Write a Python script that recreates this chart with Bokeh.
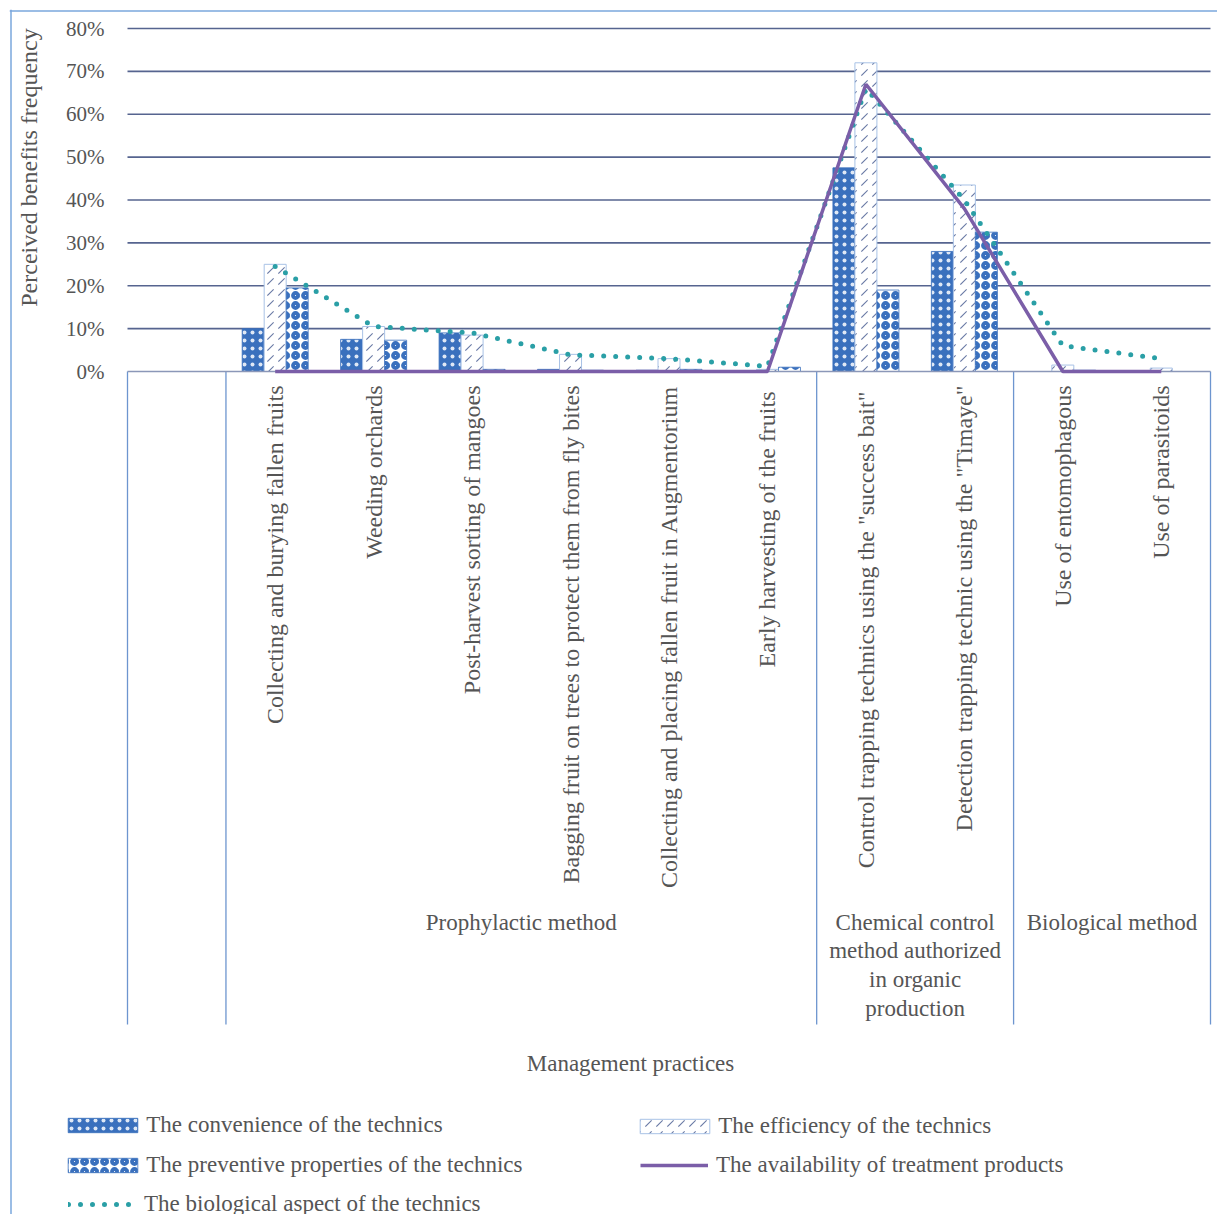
import math
import numpy as np
from bokeh.plotting import figure
from bokeh.models import Range1d, Legend, LegendItem, Span
from bokeh.core.properties import value
from bokeh.embed import file_html
from bokeh.resources import INLINE

# ---------------- data ----------------
categories = [
    "",
    "Collecting and burying fallen fruits",
    "Weeding orchards",
    "Post-harvest sorting of mangoes",
    "Bagging fruit on trees to protect them from fly bites",
    "Collecting and placing fallen fruit in Augmentorium",
    "Early  harvesting of the fruits",
    'Control trapping technics using  the "success bait"',
    'Detection trapping technic using the "Timaye"',
    "Use of entomophagous",
    "Use of parasitoids",
]
category_groups = [
    "",
    "Prophylactic method", "Prophylactic method", "Prophylactic method",
    "Prophylactic method", "Prophylactic method", "Prophylactic method",
    "Chemical control\nmethod authorized\nin organic\nproduction",
    "Chemical control\nmethod authorized\nin organic\nproduction",
    "Biological method", "Biological method",
]
convenience = [0, 10, 7.5, 9, 0.5, 0.3, 0, 47.5, 28, 0, 0]
efficiency = [0, 25, 10.5, 8.5, 4, 3, 0.5, 72, 43.5, 1.5, 0.8]
preventive = [0, 19.5, 7.3, 0.5, 0.3, 0.5, 1, 19, 32.5, 0.3, 0]
availability = [float("nan"), 0, 0, 0, 0, 0, 0, 67, 38, 0, 0]
biological = [float("nan"), 24.5, 10.5, 9, 3.9, 3, 1.2, 66, 40, 6, 3]
y_ticks = [0, 10, 20, 30, 40, 50, 60, 70, 80]
y_tick_labels = ["0%", "10%", "20%", "30%", "40%", "50%", "60%", "70%", "80%"]
series_names = [
    "The convenience of the technics",
    "The efficiency of the technics",
    "The preventive properties of the technics",
    "The availability of treatment products",
    "The biological aspect of the technics",
]
y_title = "Perceived benefits frequency"
x_title = "Management practices"

# ---------------- layout (page pixels) ----------------
W, H = 1217, 1214
PAGE0 = 0
FRAME_L, FRAME_T = 9, 9
PLOT_L, PLOT_R = 127, 1210
ZERO_Y, TOP_Y = 371, 28
TOP_VAL = 80
n = len(categories)
px_cat = (PLOT_R - PLOT_L) / n
px_pct = (ZERO_Y - TOP_Y) / TOP_VAL


def dx(page_x):
    return (page_x - PLOT_L) / px_cat


def dy(page_y):
    return (ZERO_Y - page_y) / px_pct


FONT = value("Liberation Serif")
TXT = "#555555"
BLUE = "#3a70bd"
GRID = "#56648f"
AXIS = "#8b97b8"
TABLE = "#6d95cf"
PURPLE = "#7b5ea8"
TEAL = "#2a9fa6"
BORDER = "#7aa7dd"

p = figure(width=W, height=H, output_backend="svg", toolbar_location=None,
           x_range=Range1d(dx(FRAME_L), dx(PAGE0 + W)),
           y_range=Range1d(dy(PAGE0 + H), dy(FRAME_T)),
           x_axis_location=None, y_axis_location=None,
           min_border_left=FRAME_L - PAGE0, min_border_top=FRAME_T - PAGE0,
           min_border_right=0, min_border_bottom=0)
p.grid.visible = False
p.outline_line_color = None
p.background_fill_color = "white"
p.border_fill_color = "white"

# chart border (left and top visible in the crop)
p.add_layout(Span(location=dx(10.5), dimension="height", line_color=BORDER, line_width=1.5))
p.add_layout(Span(location=dy(10.5), dimension="width", line_color=BORDER, line_width=1.5))

# gridlines
gt = [t for t in y_ticks if t > 0]
p.segment(x0=[0] * len(gt), x1=[n] * len(gt), y0=gt, y1=gt,
          line_color=GRID, line_width=1.6)

# table of category labels
bounds = [0] + [i for i in range(1, n) if category_groups[i] != category_groups[i - 1]] + [n]
table_bottom = dy(1024)
p.segment(x0=bounds, x1=bounds, y0=[0] * len(bounds), y1=[table_bottom] * len(bounds),
          line_color=TABLE, line_width=1.3)

# bars
xc = np.arange(n) + 0.5
bw = 22 / px_cat
r_conv = p.vbar(x=xc - bw, top=convenience, width=bw, fill_color=BLUE, line_color=BLUE,
                line_width=0.8, hatch_pattern="dot", hatch_color="#dfe8f5",
                hatch_scale=8, hatch_weight=1.0)
r_eff = p.vbar(x=xc, top=efficiency, width=bw, fill_color="white", line_color="#a8c2e6",
               line_width=1, hatch_pattern="right_diagonal_dash", hatch_color="#6b7ba6",
               hatch_scale=11, hatch_weight=1.1)
r_prev = p.vbar(x=xc + bw, top=preventive, width=bw, fill_color="white", line_color=BLUE,
                line_width=0.8, hatch_pattern="ring", hatch_color=BLUE,
                hatch_scale=10, hatch_weight=3.8)

# zero axis line
p.segment(x0=[0], x1=[n], y0=[0], y1=[0], line_color=AXIS, line_width=1.5)

# lines
r_bio = p.line(xc, biological, line_color=TEAL, line_width=5, line_dash="0 12",
               line_cap="round")
r_av = p.line(xc, availability, line_color=PURPLE, line_width=3.5)

# y tick labels
p.text(x=[dx(104)] * len(y_ticks), y=y_ticks, text=y_tick_labels, text_align="right",
       text_baseline="middle", text_font=FONT, text_font_size="21px", text_color=TXT)
# y title
p.text(x=[dx(28)], y=[dy(167)], text=[y_title], angle=math.pi / 2, text_align="center",
       text_baseline="middle", text_font=FONT, text_font_size="24px", text_color=TXT)

# category labels (rotated)
p.text(x=xc, y=[dy(385)] * n, text=categories, angle=math.pi / 2, text_align="right",
       text_baseline="middle", text_font=FONT, text_font_size="24px", text_color=TXT)

# group labels
gx, gtext = [], []
for a, b in zip(bounds[:-1], bounds[1:]):
    gx.append((a + b) / 2)
    gtext.append(category_groups[a])
p.text(x=gx, y=[dy(909)] * len(gx), text=gtext, text_align="center", text_baseline="top",
       text_font=FONT, text_font_size="23px", text_line_height=1.15, text_color=TXT)

# x title
p.text(x=[dx(630)], y=[dy(1063)], text=[x_title], text_align="center",
       text_baseline="middle", text_font=FONT, text_font_size="23px", text_color=TXT)

# legends
common = dict(orientation="vertical", glyph_height=18, label_height=25,
              spacing=14, padding=0, margin=0,
              border_line_color=None, background_fill_alpha=0,
              label_text_font="Liberation Serif", label_text_font_size="23px",
              label_text_color=TXT)
bar_style = dict(glyph_width=87, label_standoff=0)
line_style = dict(glyph_width=68, label_standoff=8)
ROW1_TOP = 1113.5
ROW_PITCH = 39
ROW_H = 25


def bottom_of(first_row, nrows):
    top = ROW1_TOP + first_row * ROW_PITCH
    return (PAGE0 + H) - (top + nrows * ROW_H + (nrows - 1) * (ROW_PITCH - ROW_H))


legends = [
    Legend(items=[LegendItem(label=series_names[0], renderers=[r_conv]),
                  LegendItem(label=series_names[2], renderers=[r_prev])],
           location=(59.3 - FRAME_L, bottom_of(0, 2)), **common, **bar_style),
    Legend(items=[LegendItem(label=series_names[4], renderers=[r_bio])],
           location=(68 - FRAME_L, bottom_of(2, 1)), **common, **line_style),
    Legend(items=[LegendItem(label=series_names[1], renderers=[r_eff])],
           location=(631.3 - FRAME_L, bottom_of(0, 1)), **common, **bar_style),
    Legend(items=[LegendItem(label=series_names[3], renderers=[r_av])],
           location=(640 - FRAME_L, bottom_of(1, 1)), **common, **line_style),
]
for lg in legends:
    p.add_layout(lg, "center")

open("out.html", "w").write(file_html(p, INLINE))
